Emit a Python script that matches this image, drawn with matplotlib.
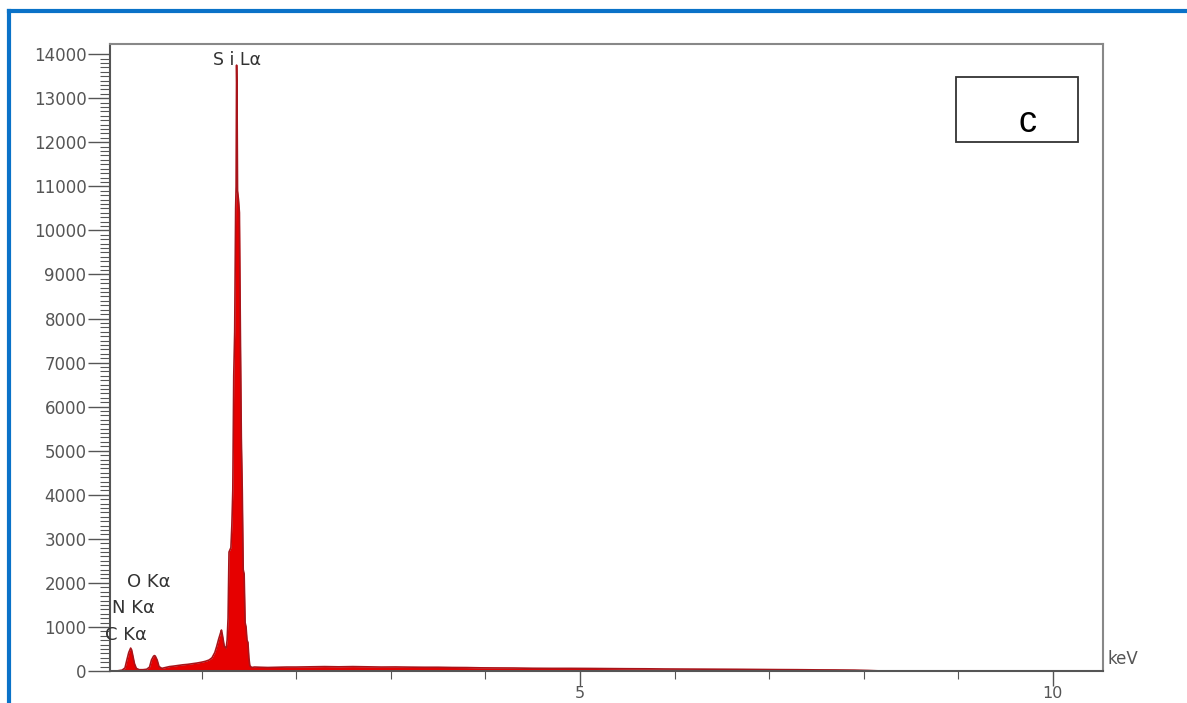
import numpy as np
import matplotlib.pyplot as plt
from matplotlib.patches import Rectangle
from matplotlib.lines import Line2D

# spectrum (keV, counts)
energy_kev = [0.03, 0.10, 0.16, 0.19, 0.21, 0.23, 0.25, 0.26, 0.27, 0.29, 0.31, 0.34,
              0.38, 0.42, 0.45, 0.47, 0.49, 0.50, 0.51, 0.53, 0.55, 0.58, 0.62, 0.66,
              0.70, 0.75, 0.80, 0.85, 0.90, 0.95, 1.00, 1.04, 1.08, 1.11, 1.14, 1.16,
              1.18, 1.20, 1.21, 1.22, 1.24, 1.26, 1.27, 1.28, 1.29, 1.30, 1.31, 1.32,
              1.33, 1.34, 1.35, 1.36, 1.365, 1.37, 1.375, 1.38, 1.39,
              1.40, 1.41, 1.42, 1.43, 1.44, 1.45, 1.46, 1.47, 1.48, 1.49, 1.50, 1.51,
              1.53, 1.56, 1.62, 1.70, 1.80, 1.90, 2.00, 2.15, 2.30, 2.45, 2.60, 2.75,
              2.90, 3.05, 3.20, 3.35, 3.50, 3.65, 3.80, 3.95, 4.10, 4.30, 4.50, 4.70,
              4.90, 5.10, 5.30, 5.50, 5.70, 5.90, 6.10, 6.30, 6.50, 6.70, 6.90, 7.10,
              7.30, 7.50, 7.70, 7.90, 8.05, 8.20, 10.53]
counts = [0, 0, 20, 70, 250, 420, 520, 480, 380, 170, 60, 30,
          30, 40, 90, 250, 330, 350, 340, 250, 100, 60, 80, 100,
          110, 125, 140, 150, 165, 180, 200, 220, 250, 300, 420, 560,
          720, 860, 930, 820, 560, 520, 700, 1200, 2700, 2750, 2800, 3300,
          4100, 6700, 7700, 10500, 11000, 13750, 13000, 10900, 10700,
          10400, 7700, 5300, 4100, 2300, 2200, 1100, 1000, 700, 650, 300, 120,
          80, 90, 85, 80, 85, 90, 90, 95, 100, 95, 100, 95,
          90, 92, 88, 85, 85, 80, 78, 72, 70, 68, 62, 60,
          60, 58, 55, 52, 50, 46, 44, 42, 40, 38, 35, 32,
          30, 26, 24, 20, 12, 0, 0]

line_labels = ['C K\u03b1', 'N K\u03b1', 'O K\u03b1']
line_label_pos = [(-0.02, 817), (0.053, 1430), (0.21, 2020)]

fig = plt.figure(figsize=(11.87, 7.03), dpi=100)
ax = fig.add_axes([0.0927, 0.0455, 0.8365, 0.8919])

ax.fill_between(energy_kev, counts, 0, color='#e60000', lw=0)
ax.plot(energy_kev, counts, color='#a8141a', lw=1.2)

ax.set_xlim(0.032, 10.53)
ax.set_ylim(0, 14230)

ax.set_yticks(np.arange(0, 14001, 1000))
ax.set_yticks(np.arange(0, 14001, 100), minor=True)
ax.set_xticks([5, 10])
ax.set_xticks([1, 2, 3, 4, 6, 7, 8, 9], minor=True)

ax.tick_params(axis='y', which='major', length=16, width=1.0, color='#555555',
               labelsize=12, labelcolor='#555555', pad=1)
ax.tick_params(axis='y', which='minor', length=7, width=0.8, color='#555555')
ax.tick_params(axis='x', which='major', length=11, width=1.0, color='#555555',
               labelsize=11.5, labelcolor='#555555', pad=0)
ax.tick_params(axis='x', which='minor', length=6, width=0.8, color='#555555')

for s in ax.spines.values():
    s.set_color('#888888')
    s.set_linewidth(1.5)
ax.spines['left'].set_color('#555555')
ax.spines['bottom'].set_color('#555555')

# peak labels
ax.text(1.374, 13868, 'S i L\u03b1', fontsize=12.5, color='#333333', ha='center', va='center')
for lab, (x, y) in zip(line_labels, line_label_pos):
    ax.text(x, y, lab, fontsize=13, color='#333333', ha='left', va='center')
ax.text(1.005, 0.005, 'keV', transform=ax.transAxes, fontsize=12, color='#555555',
        ha='left', va='bottom')

# panel tag box
fig.patches.append(Rectangle((0.8054, 0.798), 0.1028, 0.0925, transform=fig.transFigure,
                             fill=False, edgecolor='#333333', lw=1.3))
fig.text(0.866, 0.8122, 'c', fontsize=26, family='Liberation Sans', ha='center',
         va='baseline', color='black')

# blue frame (top and left edges)
blue = '#0a72c8'
fig.add_artist(Line2D([0.0080, 1.0], [0.985, 0.985], color=blue, lw=3.0))
fig.add_artist(Line2D([0.0080, 0.0080], [0.0, 0.985], color=blue, lw=3.0))

fig.savefig('out.png', dpi=100)
